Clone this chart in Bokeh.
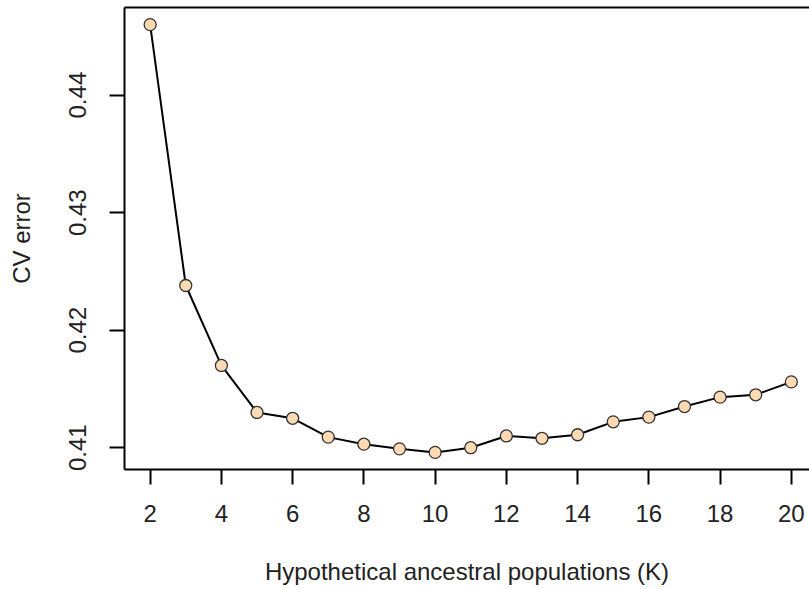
from bokeh.plotting import figure
from bokeh.models import LinearAxis, FixedTicker, Range1d, ColumnDataSource
from bokeh.embed import file_html
from bokeh.resources import INLINE

# Cross-validation error for each number of ancestral populations K
k_values = list(range(2, 21))
cv_error = [0.4460, 0.4238, 0.4170, 0.4130, 0.4125, 0.4109, 0.4103, 0.4099,
            0.4096, 0.4100, 0.4110, 0.4108, 0.4111, 0.4122, 0.4126, 0.4135,
            0.4143, 0.4145, 0.4156]
x_ticks = list(range(2, 21, 2))
y_ticks = [0.41, 0.42, 0.43, 0.44]

FONT = "Liberation Sans"
FS = "24px"

src = ColumnDataSource(dict(k=k_values, cv=cv_error))

# R-style 4% padding around the data
lo, hi = min(cv_error), max(cv_error)
pad = (hi - lo) * 0.04

p = figure(width=809, height=589, output_backend="svg", toolbar_location=None,
           x_range=Range1d(1.28, 20.51), y_range=Range1d(lo - pad, hi + pad),
           min_border_left=124, min_border_right=0, min_border_top=7,
           min_border_bottom=120, x_axis_type=None, y_axis_type=None)
p.outline_line_color = None
p.grid.visible = False
p.background_fill_color = "white"
p.border_fill_color = "white"


def style_axis(ax):
    ax.axis_line_width = 2
    ax.axis_line_color = "black"
    ax.major_tick_line_width = 2
    ax.major_tick_line_color = "black"
    ax.major_tick_out = 15
    ax.major_tick_in = 0
    ax.minor_tick_out = 0
    ax.minor_tick_in = 0
    ax.major_label_text_font = FONT
    ax.major_label_text_font_size = FS
    ax.major_label_text_color = "#222222"
    ax.axis_label_text_font = FONT
    ax.axis_label_text_font_size = FS
    ax.axis_label_text_font_style = "normal"
    ax.axis_label_text_color = "#222222"


xaxis = LinearAxis(ticker=FixedTicker(ticks=x_ticks),
                   axis_label="Hypothetical ancestral populations (K)")
style_axis(xaxis)
xaxis.major_label_standoff = 20
xaxis.axis_label_standoff = 33
p.add_layout(xaxis, "below")

yaxis = LinearAxis(ticker=FixedTicker(ticks=y_ticks), axis_label="CV error")
style_axis(yaxis)
yaxis.major_label_orientation = "vertical"
yaxis.major_label_standoff = 23
yaxis.axis_label_standoff = 32
p.add_layout(yaxis, "left")

# top edge of the box
top = LinearAxis(ticker=FixedTicker(ticks=[]))
top.axis_line_width = 2
top.axis_line_color = "black"
top.major_tick_out = 0
top.major_tick_in = 0
top.minor_tick_out = 0
top.major_label_text_font_size = "0px"
p.add_layout(top, "above")

p.line("k", "cv", source=src, line_color="black", line_width=2)
p.scatter("k", "cv", source=src, size=12, fill_color="#FDDAB4",
          line_color="#333333", line_width=1.3)

open("out.html", "w").write(file_html(p, INLINE))
